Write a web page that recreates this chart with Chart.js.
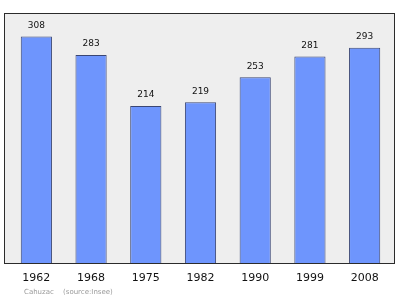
<!DOCTYPE html>
<html>
<head>
<meta charset="utf-8">
<script src="https://cdn.jsdelivr.net/npm/chart.js@4"></script>
<style>
  html, body { margin: 0; padding: 0; background: #fff; }
  #wrap { width: 400px; height: 299px; position: relative; }
</style>
</head>
<body>
<div id="wrap"><canvas id="chart"></canvas></div>
<script>
// population by census year
const years = ['1962', '1968', '1975', '1982', '1990', '1999', '2008'];
const population = [308, 283, 214, 219, 253, 281, 293];
const yMax = 340;
const footerName = 'Cahuzac';
const footerSource = '(source:Insee)';

// frame is a bit wider than the bar area
const frameOut = { left: 5, right: 3 };

// plot background, frame, value labels and footer
const decor = {
    id: 'decor',
    beforeDraw(chart) {
        const { ctx, chartArea: a } = chart;
        ctx.save();
        ctx.fillStyle = '#eeeeee';
        ctx.fillRect(a.left - frameOut.left, a.top, a.right - a.left + frameOut.left + frameOut.right, a.bottom - a.top);
        ctx.restore();
    },
    afterDatasetsDraw(chart) {
        const { ctx, chartArea: a } = chart;
        const l = a.left - frameOut.left, r = a.right + frameOut.right;
        ctx.save();
        ctx.strokeStyle = '#2b2b2b';
        ctx.lineWidth = 1;
        ctx.strokeRect(Math.round(l) + 0.5, Math.round(a.top) + 0.5, Math.round(r - l) - 1, Math.round(a.bottom - a.top) - 1);

        ctx.fillStyle = '#111';
        ctx.font = '9px "DejaVu Sans"';
        ctx.textAlign = 'center';
        ctx.textBaseline = 'middle';
        chart.getDatasetMeta(0).data.forEach((bar, i) => {
            ctx.fillText(population[i], bar.x, bar.y - 11);
        });

        ctx.fillStyle = '#9a9a9a';
        ctx.font = '7px "DejaVu Sans"';
        ctx.textAlign = 'left';
        ctx.textBaseline = 'alphabetic';
        ctx.fillText(footerName, 24, 294);
        ctx.fillText(footerSource, 63, 294);
        ctx.restore();
    }
};

new Chart(document.getElementById('chart'), {
    type: 'bar',
    data: {
        labels: years,
        datasets: [{
            data: population,
            backgroundColor: '#6e95fd',
            borderColor: '#3a4674',
            borderWidth: 1,
            borderSkipped: 'bottom',
            categoryPercentage: 1,
            barPercentage: 0.57
        }]
    },
    options: {
        responsive: true,
        maintainAspectRatio: false,
        animation: false,
        layout: { padding: { left: 9, right: 8, top: 13, bottom: 0 } },
        plugins: { legend: { display: false }, tooltip: { enabled: false } },
        scales: {
            x: {
                grid: { display: false, drawTicks: false },
                border: { display: false },
                ticks: { color: '#111', font: { family: 'DejaVu Sans', size: 11 }, padding: 8 },
                afterFit: s => { s.height = 35; }
            },
            y: {
                display: false,
                min: 0,
                max: yMax
            }
        }
    },
    plugins: [decor]
});
</script>
</body>
</html>
